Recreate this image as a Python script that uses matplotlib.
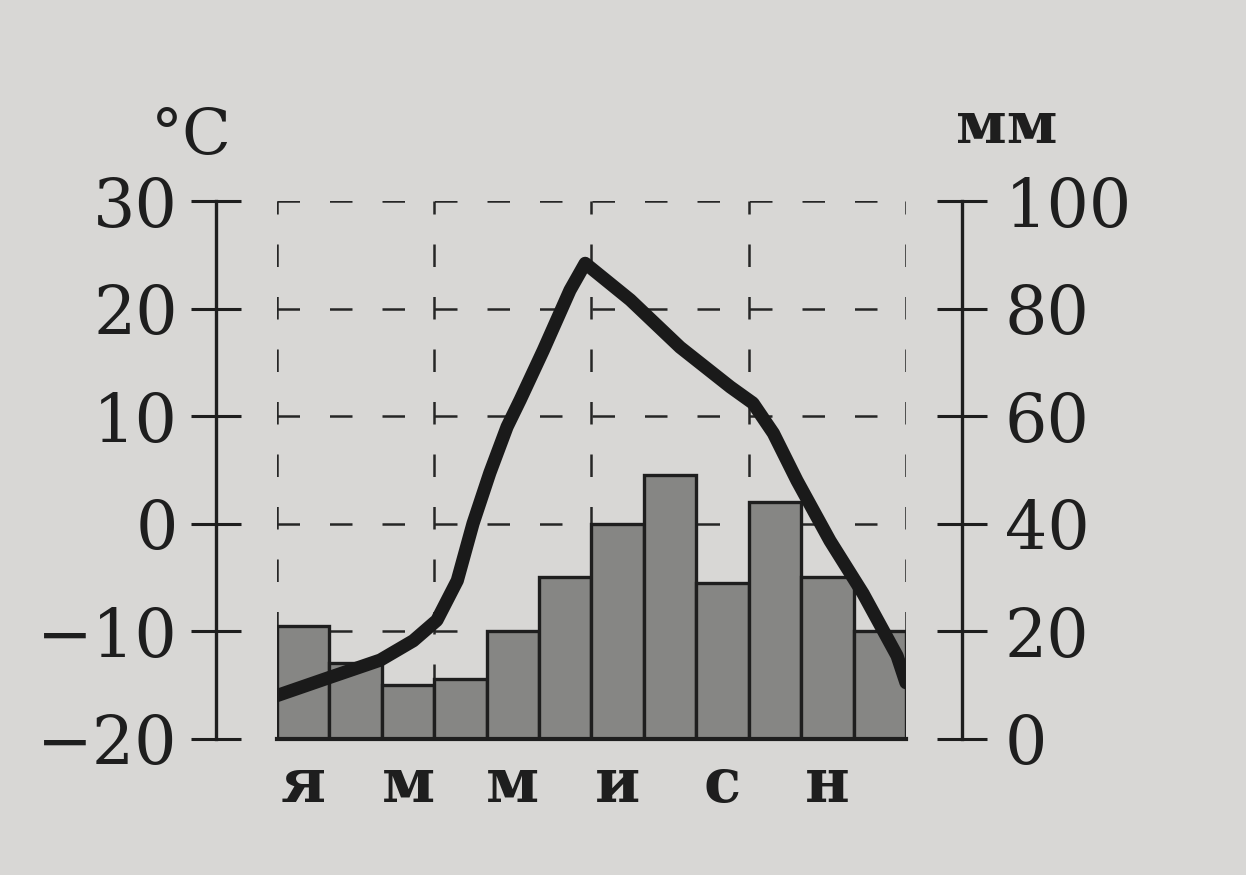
import numpy as np
import matplotlib
matplotlib.use('Agg')
import matplotlib.pyplot as plt

# Monthly precipitation, mm (Jan..Dec)
precip_mm = [21, 14, 10, 11, 20, 30, 40, 49, 29, 44, 30, 20]

# Temperature curve, read along the month scale (0 = start of Jan, 12 = end of Dec)
temp_x = [0, 1.01, 1.97, 2.6, 3.05, 3.44, 3.74, 4.06, 4.39, 4.64, 5.08, 5.59,
          5.88, 6.74, 7.69, 8.65, 9.08, 9.47, 9.92, 10.55, 11.18, 11.83, 12]
temp_c = [-16.0, -14.3, -12.7, -10.9, -9.0, -5.3, 0.0, 4.7, 9.0, 11.5, 16.1, 21.7,
          24.2, 20.8, 16.4, 12.7, 11.2, 8.4, 4.0, -1.6, -6.5, -12.3, -14.8]

month_labels = ['я', 'м', 'м', 'и', 'с', 'н']
temp_ticks = [-20, -10, 0, 10, 20, 30]
mm_ticks = [0, 20, 40, 60, 80, 100]
grid_months = [0, 3, 6, 9, 12]

bg = '#d8d7d5'
ink = '#1e1e1e'
plt.rcParams['font.family'] = ['DejaVu Serif']

fig = plt.figure(figsize=(12.46, 8.75), dpi=100, facecolor=bg)
ax_mm = fig.add_axes([0.2223, 0.1559, 0.5048, 0.6144])
ax_mm.set_facecolor('none')
ax_t = ax_mm.twinx()

# bars (precipitation) on the mm axis
month_pos = np.arange(len(precip_mm)) + 0.5
ax_mm.bar(month_pos, precip_mm, width=1.0, color='#868684', edgecolor=ink,
          linewidth=2.4, zorder=2)
ax_mm.set_xlim(0, 12)
ax_mm.set_ylim(0, 100)

# dashed grid under the bars
dash = (0, (9, 12))
ax_mm.set_axisbelow(True)
ax_mm.set_yticks(mm_ticks)
ax_mm.yaxis.grid(True, linestyle=dash, color='#262626', linewidth=1.8)
ax_mm.set_xticks(grid_months, minor=True)
ax_mm.xaxis.grid(True, which='minor', linestyle=dash, color='#262626', linewidth=1.8)
ax_mm.xaxis.grid(False, which='major')
ax_mm.tick_params(axis='x', which='minor', length=0)

ax_mm.set_xticks(np.arange(0.5, 12, 2))
ax_mm.set_xticklabels(month_labels, fontsize=44, fontweight='bold', color=ink)
ax_mm.tick_params(axis='x', which='major', length=0, pad=12)

ax_mm.yaxis.tick_right()
ax_mm.tick_params(axis='y', direction='inout', length=36, width=2.2, pad=13,
                  labelsize=48, colors=ink)
for s in ['top', 'left']:
    ax_mm.spines[s].set_visible(False)
ax_mm.spines['right'].set_position(('outward', 40))
ax_mm.spines['right'].set_linewidth(2.4)
ax_mm.spines['bottom'].set_linewidth(3)
for s in ['right', 'bottom']:
    ax_mm.spines[s].set_color(ink)

# temperature line on the °C axis
ax_t.plot(temp_x, temp_c, color='#1a1a1a', linewidth=9.5,
          solid_joinstyle='round', solid_capstyle='round', zorder=3)
ax_t.set_ylim(-20, 30)
ax_t.set_yticks(temp_ticks)
ax_t.yaxis.tick_left()
ax_t.tick_params(axis='y', direction='inout', length=36, width=2.2, pad=9.5,
                 labelsize=48, colors=ink)
for s in ['top', 'right', 'bottom']:
    ax_t.spines[s].set_visible(False)
ax_t.spines['left'].set_visible(True)
ax_t.spines['left'].set_position(('outward', 44))
ax_t.spines['left'].set_linewidth(2.4)
ax_t.spines['left'].set_color(ink)

fig.text(191 / 1246, 1 - 137 / 875, '°C', fontsize=46, color=ink,
         ha='center', va='center')
fig.text(1007 / 1246, 1 - 127 / 875, 'мм', fontsize=42, fontweight='bold',
         color=ink, ha='center', va='center')

fig.savefig('out.png', dpi=100, facecolor=bg)
